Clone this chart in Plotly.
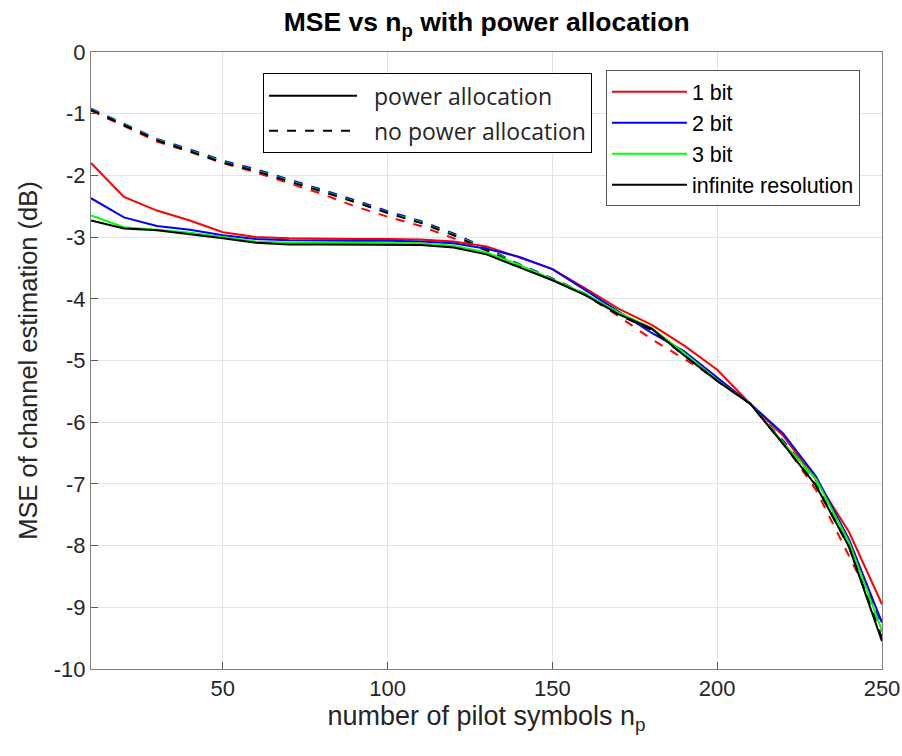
import plotly.graph_objects as go

n_p = [10, 20, 30, 40, 50, 60, 70, 80, 90, 100, 110, 120, 130, 140, 150, 160, 170, 180, 190, 200, 210, 220, 230, 240, 250]

# power allocation (solid)
red_pa = [-1.80, -2.35, -2.57, -2.73, -2.92, -3.00, -3.02, -3.03, -3.03, -3.03, -3.04, -3.07, -3.15, -3.33, -3.52, -3.83, -4.16, -4.42, -4.76, -5.15, -5.70, -6.22, -6.93, -7.78, -8.95]
blue_pa = [-2.37, -2.68, -2.82, -2.88, -2.97, -3.03, -3.05, -3.06, -3.06, -3.06, -3.07, -3.10, -3.19, -3.32, -3.52, -3.86, -4.20, -4.55, -4.85, -5.27, -5.70, -6.18, -6.88, -7.90, -9.25]
green_pa = [-2.65, -2.84, -2.88, -2.93, -3.00, -3.07, -3.09, -3.09, -3.09, -3.10, -3.10, -3.14, -3.25, -3.45, -3.68, -3.92, -4.22, -4.47, -4.88, -5.32, -5.70, -6.33, -6.92, -7.95, -9.38]
black_pa = [-2.73, -2.86, -2.89, -2.95, -3.02, -3.09, -3.12, -3.12, -3.12, -3.13, -3.13, -3.17, -3.28, -3.49, -3.70, -3.94, -4.25, -4.48, -4.92, -5.33, -5.70, -6.35, -7.03, -8.02, -9.55]

# no power allocation (dashed)
red_npa = [-0.95, -1.20, -1.45, -1.62, -1.80, -1.95, -2.12, -2.30, -2.50, -2.67, -2.82, -3.02, -3.22, -3.45, -3.68, -3.93, -4.28, -4.65, -4.97, -5.30, -5.70, -6.33, -7.10, -8.18, -9.24]
blue_npa = [-0.92, -1.16, -1.41, -1.58, -1.76, -1.90, -2.06, -2.23, -2.40, -2.58, -2.74, -2.94, -3.18, -3.44, -3.67, -3.92, -4.24, -4.50, -4.90, -5.30, -5.70, -6.30, -6.95, -7.95, -9.30]
green_npa = [-0.93, -1.17, -1.42, -1.60, -1.78, -1.92, -2.08, -2.25, -2.42, -2.60, -2.76, -2.96, -3.20, -3.45, -3.68, -3.93, -4.25, -4.50, -4.91, -5.32, -5.70, -6.33, -6.98, -7.98, -9.40]
black_npa = [-0.94, -1.18, -1.43, -1.61, -1.79, -1.93, -2.09, -2.26, -2.43, -2.61, -2.77, -2.97, -3.21, -3.46, -3.69, -3.94, -4.26, -4.50, -4.92, -5.33, -5.70, -6.35, -7.03, -8.02, -9.50]

x_ticks = [50, 100, 150, 200, 250]
x_ticklabels = ["50", "100", "150", "200", "250"]
y_ticks = [0, -1, -2, -3, -4, -5, -6, -7, -8, -9, -10]
y_ticklabels = ["0", "-1", "-2", "-3", "-4", "-5", "-6", "-7", "-8", "-9", "-10"]

series_names = ["1 bit", "2 bit", "3 bit", "infinite resolution"]
colors = ["#ff0000", "#0000ff", "#00ff00", "#000000"]
style_names = ["power allocation", "no power allocation"]

fig = go.Figure()

npa = [red_npa, blue_npa, green_npa, black_npa]
pa = [red_pa, blue_pa, green_pa, black_pa]

for ys, c in zip(npa, colors):
    fig.add_trace(go.Scatter(x=n_p, y=ys, mode="lines", line=dict(color=c, width=2, dash="dash"),
                             showlegend=False, hoverinfo="skip"))
for i, (ys, c, name) in enumerate(zip(pa, colors, series_names)):
    fig.add_trace(go.Scatter(x=n_p, y=ys, mode="lines", line=dict(color=c, width=2),
                             name=name, legend="legend2", legendgroup="s%d" % i))

# style legend entries
for i, (nm, d) in enumerate(zip(style_names, ["solid", "dash"])):
    fig.add_trace(go.Scatter(x=[None], y=[None], mode="lines", line=dict(color="black", width=2, dash=d),
                             name="\u00a0\u00a0" + nm, legend="legend", legendgroup="p%d" % i))

axis_common = dict(
    showgrid=True, gridcolor="#e3e3e3", gridwidth=1,
    showline=True, linecolor="#7f7f7f", linewidth=1, mirror=True,
    ticks="inside", ticklen=7, tickcolor="#5a5a5a",
    tickfont=dict(family="Liberation Sans, Arial", size=22, color="#262626"),
    zeroline=False, automargin=False,
)

fig.update_layout(
    width=902, height=756,
    margin=dict(l=91, r=20, t=52, b=87),
    plot_bgcolor="white", paper_bgcolor="white",
    title=dict(text="<b>MSE vs n<sub>p</sub> with power allocation</b>",
               x=0.5395, xanchor="center", y=0.983, yanchor="top",
               font=dict(family="Liberation Sans, Arial", size=26.5, color="black")),
    xaxis=dict(range=[10, 250], tickvals=x_ticks, ticktext=x_ticklabels,
               title=dict(text="number of pilot symbols n<sub>p</sub>", standoff=2,
                          font=dict(family="Liberation Sans, Arial", size=27, color="#262626")),
               **axis_common),
    yaxis=dict(range=[-10, 0], tickvals=y_ticks, ticktext=y_ticklabels,
               title=dict(text="MSE of channel estimation (dB)", standoff=8,
                          font=dict(family="Liberation Sans, Arial", size=25.5, color="#262626")),
               **axis_common),
    legend=dict(x=0.2175, y=0.9653, xanchor="left", yanchor="top",
                bgcolor="white", bordercolor="black", borderwidth=1,
                font=dict(family="Open Sans, Segoe UI", size=23, color="#262626"),
                itemwidth=88, tracegroupgap=2, traceorder="grouped"),
    legend2=dict(x=0.651, y=0.9702, xanchor="left", yanchor="top",
                 bgcolor="white", bordercolor="#555555", borderwidth=1,
                 font=dict(family="Liberation Sans, Arial", size=21.5, color="black"),
                 itemwidth=75, tracegroupgap=0, traceorder="grouped"),
)

fig.write_html("out.html")
